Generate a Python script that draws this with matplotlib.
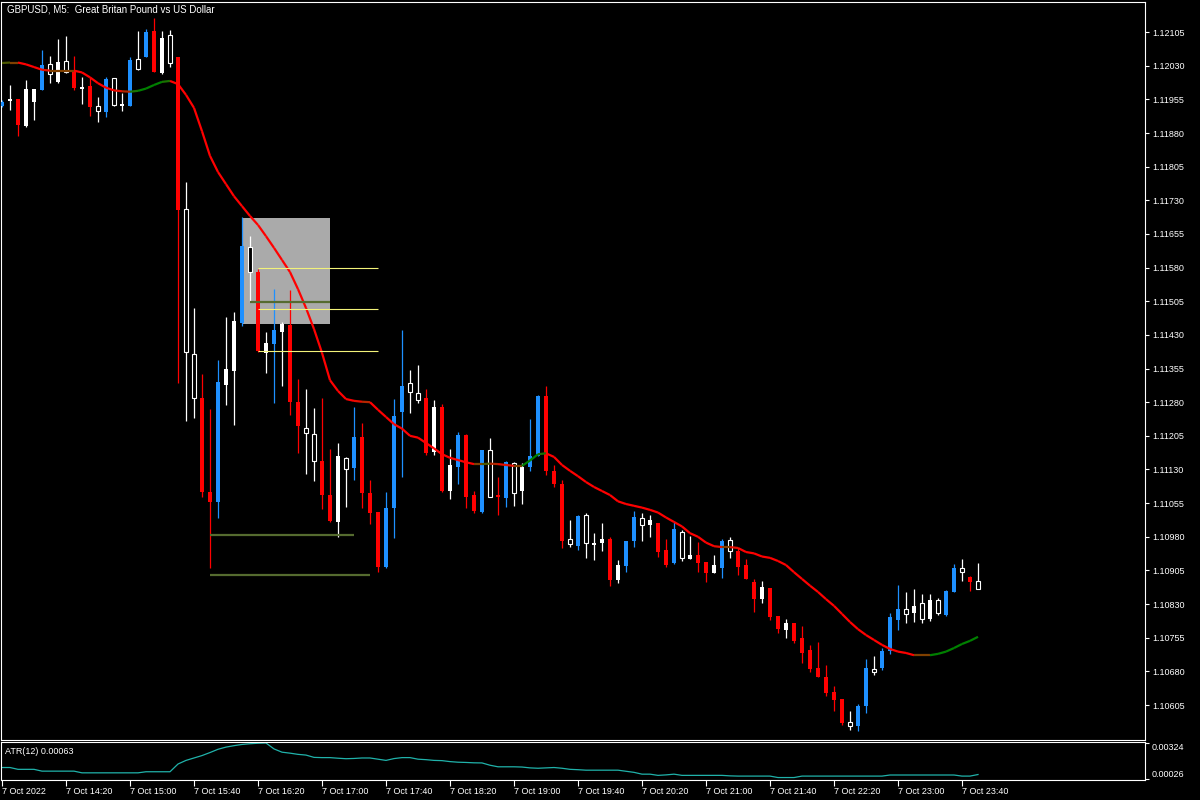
# GBPUSD M5 chart, MT5 look: candles, coloured MA, drawn levels and ATR(12) window
import numpy as np
import matplotlib.pyplot as plt
from matplotlib.patches import Rectangle
from matplotlib.collections import LineCollection

plt.rcParams['font.family'] = ['Liberation Sans', 'DejaVu Sans']

# candle kind: b = blue, r = red, w = white filled, h = hollow
kinds = ['b', 'w', 'r', 'w', 'w', 'b', 'h', 'w', 'h', 'r', 'w', 'r', 'h', 'b', 'h', 'w', 'b', 'h', 'b', 'r',
         'w', 'h', 'r', 'h', 'h', 'r', 'r', 'b', 'w', 'w', 'b', 'h', 'r', 'w', 'b', 'w', 'r', 'r', 'h', 'h',
         'r', 'r', 'w', 'h', 'b', 'r', 'r', 'r', 'b', 'b', 'b', 'h', 'h', 'r', 'w', 'r', 'w', 'b', 'r', 'r',
         'b', 'h', 'r', 'b', 'h', 'w', 'b', 'b', 'r', 'r', 'r', 'h', 'b', 'h', 'w', 'w', 'r', 'w', 'b', 'b',
         'h', 'w', 'r', 'r', 'b', 'h', 'w', 'r', 'r', 'w', 'b', 'h', 'r', 'r', 'r', 'w', 'r', 'r', 'w', 'r',
         'r', 'r', 'r', 'r', 'r', 'r', 'h', 'b', 'b', 'h', 'b', 'b', 'b', 'h', 'w', 'h', 'w', 'h', 'b', 'b',
         'h', 'r', 'h']

opens = [1.11940, 1.11951, 1.11956, 1.11895, 1.11949, 1.11976, 1.12034, 1.11994, 1.12040, 1.12020,
         1.11978, 1.11985, 1.11940, 1.11927, 1.12002, 1.11940, 1.11940, 1.12045, 1.12049, 1.12107,
         1.12014, 1.12098, 1.12049, 1.11710, 1.11387, 1.11289, 1.11080, 1.11057, 1.11318, 1.11349,
         1.11456, 1.11626, 1.11570, 1.11390, 1.11410, 1.11436, 1.11452, 1.11280, 1.11222, 1.11209,
         1.11149, 1.11073, 1.11013, 1.11156, 1.11133, 1.11202, 1.11077, 1.11035, 1.10913, 1.11044,
         1.11258, 1.11323, 1.11300, 1.11289, 1.11169, 1.11269, 1.11082, 1.11135, 1.11207, 1.11073,
         1.11035, 1.11173, 1.11073, 1.11066, 1.11144, 1.11082, 1.11135, 1.11160, 1.11294, 1.11127,
         1.11098, 1.10975, 1.10959, 1.11028, 1.10962, 1.10966, 1.10975, 1.10884, 1.10915, 1.10971,
         1.11022, 1.11006, 1.11011, 1.10950, 1.10921, 1.10990, 1.10930, 1.10939, 1.10924, 1.10899,
         1.10910, 1.10973, 1.10948, 1.10917, 1.10879, 1.10841, 1.10866, 1.10803, 1.10772, 1.10788,
         1.10754, 1.10728, 1.10687, 1.10667, 1.10634, 1.10618, 1.10567, 1.10558, 1.10603, 1.10685,
         1.10687, 1.10725, 1.10794, 1.10819, 1.10810, 1.10832, 1.10797, 1.10839, 1.10806, 1.10857,
         1.10910, 1.10890, 1.10881]
highs = [1.11953, 1.11987, 1.11956, 1.11998, 1.11978, 1.12065, 1.12052, 1.12089, 1.12096, 1.12052,
         1.12005, 1.12002, 1.11960, 1.12005, 1.12002, 1.11969, 1.12049, 1.12107, 1.12112, 1.12136,
         1.12107, 1.12109, 1.12049, 1.11771, 1.11490, 1.11343, 1.11265, 1.11374, 1.11470, 1.11481,
         1.11693, 1.11650, 1.11577, 1.11436, 1.11532, 1.11459, 1.11530, 1.11332, 1.11309, 1.11267,
         1.11289, 1.11176, 1.11189, 1.11158, 1.11269, 1.11234, 1.11106, 1.11035, 1.11080, 1.11287,
         1.11441, 1.11352, 1.11363, 1.11309, 1.11285, 1.11276, 1.11176, 1.11213, 1.11209, 1.11082,
         1.11173, 1.11200, 1.11113, 1.11149, 1.11147, 1.11144, 1.11242, 1.11296, 1.11316, 1.11140,
         1.11106, 1.11017, 1.11028, 1.11033, 1.10988, 1.11011, 1.10980, 1.10928, 1.10971, 1.11037,
         1.11033, 1.11028, 1.11011, 1.10975, 1.11015, 1.10995, 1.10982, 1.10968, 1.10924, 1.10939,
         1.10975, 1.10980, 1.10955, 1.10930, 1.10886, 1.10881, 1.10866, 1.10803, 1.10797, 1.10788,
         1.10781, 1.10739, 1.10745, 1.10694, 1.10648, 1.10618, 1.10592, 1.10607, 1.10708, 1.10714,
         1.10732, 1.10810, 1.10873, 1.10857, 1.10864, 1.10852, 1.10852, 1.10843, 1.10861, 1.10919,
         1.10930, 1.10893, 1.10921]
lows = [1.11938, 1.11931, 1.11873, 1.11893, 1.11909, 1.11976, 1.11991, 1.11991, 1.12014, 1.11976,
        1.11945, 1.11918, 1.11904, 1.11915, 1.11940, 1.11929, 1.11940, 1.12020, 1.12049, 1.12016,
        1.12011, 1.12027, 1.11323, 1.11238, 1.11245, 1.11069, 1.10910, 1.11022, 1.11274, 1.11229,
        1.11450, 1.11505, 1.11392, 1.11345, 1.11278, 1.11316, 1.11251, 1.11167, 1.11120, 1.11104,
        1.11042, 1.11013, 1.10980, 1.11046, 1.11106, 1.11044, 1.11008, 1.10901, 1.10910, 1.10977,
        1.11113, 1.11256, 1.11278, 1.11162, 1.11162, 1.11080, 1.11064, 1.11098, 1.11044, 1.11033,
        1.11033, 1.11069, 1.11028, 1.11046, 1.11049, 1.11053, 1.11127, 1.11160, 1.11118, 1.11091,
        1.10955, 1.10957, 1.10950, 1.10933, 1.10928, 1.10948, 1.10870, 1.10877, 1.10901, 1.10957,
        1.10971, 1.10980, 1.10935, 1.10913, 1.10919, 1.10926, 1.10930, 1.10901, 1.10879, 1.10899,
        1.10888, 1.10933, 1.10895, 1.10886, 1.10812, 1.10832, 1.10794, 1.10765, 1.10754, 1.10743,
        1.10699, 1.10679, 1.10667, 1.10625, 1.10592, 1.10560, 1.10549, 1.10547, 1.10587, 1.10672,
        1.10683, 1.10719, 1.10772, 1.10788, 1.10790, 1.10788, 1.10792, 1.10806, 1.10803, 1.10857,
        1.10881, 1.10859, 1.10864]
closes = [1.11949, 1.11956, 1.11898, 1.11978, 1.11978, 1.12031, 1.12011, 1.12038, 1.12016, 1.11980,
          1.11982, 1.11938, 1.11929, 1.12000, 1.11942, 1.11945, 1.12043, 1.12023, 1.12105, 1.12016,
          1.12092, 1.12036, 1.11708, 1.11392, 1.11289, 1.11080, 1.11057, 1.11325, 1.11354, 1.11461,
          1.11628, 1.11570, 1.11394, 1.11412, 1.11441, 1.11454, 1.11280, 1.11227, 1.11211, 1.11149,
          1.11073, 1.11015, 1.11160, 1.11131, 1.11202, 1.11077, 1.11033, 1.10913, 1.11044, 1.11249,
          1.11316, 1.11303, 1.11285, 1.11167, 1.11269, 1.11082, 1.11140, 1.11207, 1.11069, 1.11037,
          1.11173, 1.11069, 1.11069, 1.11147, 1.11077, 1.11135, 1.11160, 1.11294, 1.11127, 1.11098,
          1.10971, 1.10964, 1.11026, 1.10966, 1.10966, 1.10975, 1.10884, 1.10917, 1.10971, 1.11024,
          1.11006, 1.11017, 1.10946, 1.10917, 1.10997, 1.10933, 1.10939, 1.10921, 1.10899, 1.10917,
          1.10971, 1.10948, 1.10913, 1.10886, 1.10841, 1.10868, 1.10801, 1.10774, 1.10788, 1.10748,
          1.10721, 1.10685, 1.10667, 1.10632, 1.10616, 1.10565, 1.10558, 1.10603, 1.10687, 1.10679,
          1.10725, 1.10801, 1.10819, 1.10808, 1.10826, 1.10797, 1.10839, 1.10810, 1.10859, 1.10910,
          1.10901, 1.10879, 1.10864]

# moving average
ma = [1.12036, 1.12037, 1.12037, 1.12033, 1.12027, 1.12021, 1.12019, 1.12019, 1.12019, 1.12019,
      1.12015, 1.12004, 1.11991, 1.11981, 1.11975, 1.11973, 1.11972, 1.11974, 1.11979, 1.11987,
      1.11994, 1.11996, 1.11989, 1.11965, 1.11936, 1.11884, 1.11829, 1.11793, 1.11766, 1.11739,
      1.11717, 1.11695, 1.11675, 1.11650, 1.11624, 1.11597, 1.11570, 1.11532, 1.11490, 1.11443,
      1.11390, 1.11329, 1.11305, 1.11287, 1.11283, 1.11281, 1.11280, 1.11263, 1.11247, 1.11231,
      1.11221, 1.11205, 1.11201, 1.11189, 1.11177, 1.11164, 1.11156, 1.11151, 1.11146, 1.11142,
      1.11142, 1.11143, 1.11142, 1.11140, 1.11138, 1.11138, 1.11150, 1.11164, 1.11166, 1.11158,
      1.11140, 1.11127, 1.11115, 1.11102, 1.11091, 1.11082, 1.11073, 1.11059, 1.11053, 1.11049,
      1.11045, 1.11040, 1.11034, 1.11023, 1.11013, 1.11003, 1.10988, 1.10980, 1.10967, 1.10959,
      1.10957, 1.10957, 1.10955, 1.10946, 1.10943, 1.10936, 1.10933, 1.10926, 1.10917, 1.10901,
      1.10886, 1.10871, 1.10857, 1.10841, 1.10826, 1.10808, 1.10790, 1.10774, 1.10761, 1.10750,
      1.10739, 1.10730, 1.10724, 1.10721, 1.10716, 1.10716, 1.10716, 1.10719, 1.10724, 1.10732,
      1.10741, 1.10748, 1.10757]

atr = [0.00121, 0.00121, 0.00106, 0.00106, 0.00106, 0.00091, 0.00091, 0.00091, 0.00091, 0.00091,
       0.00077, 0.00077, 0.00077, 0.00077, 0.00077, 0.00077, 0.00077, 0.00077, 0.00086, 0.00086,
       0.00086, 0.00086, 0.00150, 0.00180, 0.00200, 0.00220, 0.00245, 0.00272, 0.00290, 0.00302,
       0.00312, 0.00318, 0.00322, 0.00324, 0.00275, 0.00248, 0.00240, 0.00230, 0.00224, 0.00205,
       0.00203, 0.00203, 0.00198, 0.00194, 0.00196, 0.00200, 0.00200, 0.00190, 0.00180, 0.00195,
       0.00203, 0.00203, 0.00190, 0.00186, 0.00180, 0.00178, 0.00170, 0.00165, 0.00163, 0.00160,
       0.00159, 0.00140, 0.00127, 0.00127, 0.00127, 0.00125, 0.00118, 0.00115, 0.00118, 0.00121,
       0.00115, 0.00106, 0.00103, 0.00099, 0.00099, 0.00099, 0.00099, 0.00099, 0.00090, 0.00081,
       0.00066, 0.00066, 0.00056, 0.00060, 0.00066, 0.00056, 0.00056, 0.00056, 0.00056, 0.00056,
       0.00056, 0.00052, 0.00050, 0.00050, 0.00050, 0.00050, 0.00050, 0.00038, 0.00038, 0.00038,
       0.00050, 0.00050, 0.00050, 0.00050, 0.00050, 0.00050, 0.00050, 0.00050, 0.00050, 0.00050,
       0.00050, 0.00059, 0.00059, 0.00059, 0.00059, 0.00059, 0.00059, 0.00059, 0.00059, 0.00059,
       0.00050, 0.00050, 0.00063]

# drawn objects (bar index from/to, price)
zone = [30, 41, 1.11454, 1.11691]
zone_line = [31, 41, 1.11504]
fib_levels = [1.11580, 1.11487, 1.11393]
fib_span = [32, 47]
low_lines = [(26, 44, 1.10984), (26, 46, 1.10895)]

price_ticks = [1.10605 + 0.00075 * k for k in range(21)]
time_labels = ['7 Oct 2022', '7 Oct 14:20', '7 Oct 15:00', '7 Oct 15:40', '7 Oct 16:20', '7 Oct 17:00',
               '7 Oct 17:40', '7 Oct 18:20', '7 Oct 19:00', '7 Oct 19:40', '7 Oct 20:20', '7 Oct 21:00',
               '7 Oct 21:40', '7 Oct 22:20', '7 Oct 23:00', '7 Oct 23:40']

colors = {'b': '#1e90ff', 'r': '#ff0000', 'w': '#ffffff', 'h': '#ffffff'}

fig = plt.figure(figsize=(12, 8), dpi=100, facecolor='black')
ax = fig.add_axes([1 / 1200, 1 - 740 / 800, 1144 / 1200, 738 / 800], facecolor='black')
ax2 = fig.add_axes([1 / 1200, 1 - 780 / 800, 1144 / 1200, 38 / 800], facecolor='black', sharex=ax)

x = np.arange(len(opens))

# zone is drawn as background
ax.add_patch(Rectangle((zone[0], zone[2]), zone[1] - zone[0], zone[3] - zone[2],
                       facecolor='#aaaaaa', edgecolor='none', zorder=0))

# candles
for i in x:
    c = colors[kinds[i]]
    ax.vlines(i, lows[i], highs[i], color=c, lw=0.9, zorder=2)
    lo = min(opens[i], closes[i])
    hgt = max(abs(closes[i] - opens[i]), 0.00002)
    if kinds[i] == 'h':
        ax.add_patch(Rectangle((i - 0.28, lo), 0.56, hgt, facecolor='black',
                               edgecolor='white', lw=0.8, zorder=3))
    else:
        ax.add_patch(Rectangle((i - 0.31, lo), 0.62, hgt, facecolor=c,
                               edgecolor='none', zorder=3))

# MA coloured by slope: red falling, brown flat, green rising
ma = np.array(ma)
pts = np.column_stack([x, ma])
segs = np.stack([pts[:-1], pts[1:]], axis=1)
t = np.clip(0.5 + np.diff(ma) / 0.00005, 0, 1)
red = np.array([1.0, 0.0, 0.0])
green = np.array([0.0, 0.5, 0.0])
seg_cols = [tuple(red * (1 - k) + green * k) for k in t]
ax.add_collection(LineCollection(segs, colors=seg_cols, lw=1.6, zorder=4))

# drawn levels
ax.hlines(fib_levels, fib_span[0], fib_span[1], color='#f2f27a', lw=0.8, zorder=5)
ax.hlines(zone_line[2], zone_line[0], zone_line[1], color='#556b2f', lw=1.6, zorder=5)
for a, b, p in low_lines:
    ax.hlines(p, a, b, color='#556b2f', lw=1.6, zorder=5)

ax.set_xlim(-0.125, 142.875)
ax.set_ylim(1.10527, 1.12172)
ax.yaxis.tick_right()
ax.set_yticks(price_ticks)
ax.set_yticklabels(['%.5f' % p for p in price_ticks])
ax.tick_params(axis='y', colors='white', direction='out', length=3, width=0.8, labelsize=6.5, pad=2)
ax.tick_params(axis='x', bottom=False, labelbottom=False)

# ATR window
ax2.plot(x, atr, color='#20b2aa', lw=0.9)
ax2.set_ylim(0.000177, 0.003323)
ax2.yaxis.tick_right()
ax2.set_yticks([0.00026, 0.00324])
ax2.set_yticklabels(['0.00026', '0.00324'])
ylabs = ax2.get_yticklabels()
ylabs[0].set_va('bottom')
ylabs[1].set_va('top')
ax2.tick_params(axis='y', colors='white', direction='out', length=3, width=0.8, labelsize=6.5, pad=2)
ax2.set_xticks(np.arange(0, 128, 8))
ax2.set_xticklabels(time_labels, ha='left')
ax2.tick_params(axis='x', colors='white', direction='out', length=4, width=0.8, labelsize=6.5, pad=1)

for a in (ax, ax2):
    for s in a.spines.values():
        s.set_color('white')
        s.set_linewidth(0.8)

fig.text(7 / 1200, 1 - 10 / 800, 'GBPUSD, M5:  Great Britan Pound vs US Dollar',
         color='white', fontsize=7, va='center')
fig.text(5 / 1200, 1 - 751 / 800, 'ATR(12) 0.00063', color='white', fontsize=6.5, va='center')

fig.savefig('out.png', dpi=100, facecolor='black')
